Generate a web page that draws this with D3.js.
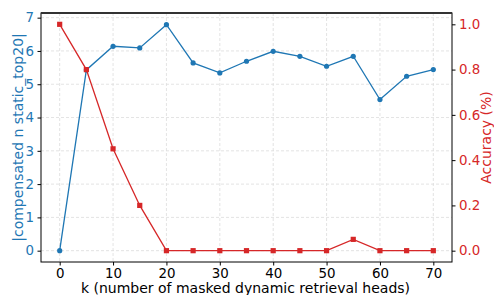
<!DOCTYPE html>
<html><head><meta charset="utf-8">
<script src="https://cdn.jsdelivr.net/npm/d3@7"></script>
<style>body{margin:0;background:#fff}svg{display:block}text{font-family:"DejaVu Sans",sans-serif}</style>
</head><body>
<script>
const kValues = [0,5,10,15,20,25,30,35,40,45,50,55,60,65,70];
const overlapValues = [0,5.43,6.14,6.09,6.79,5.64,5.34,5.69,5.99,5.84,5.54,5.84,4.54,5.24,5.44];
const accuracyValues = [1.0,0.8,0.45,0.2,0,0,0,0,0,0,0,0.05,0,0,0];
const xTicks = [0,10,20,30,40,50,60,70];
const leftTicks = [0,1,2,3,4,5,6,7];
const rightTicks = [0,0.2,0.4,0.6,0.8,1.0];
const xLabel = "k (number of masked dynamic retrieval heads)";
const leftLabel = "|compensated n static_top20|";
const rightLabel = "Accuracy (%)";

const W=494,H=295, L=41, R=452, T=13, B=262;
const blue="#1f77b4", red="#d62728";
const svg=d3.select("body").append("svg").attr("width",W).attr("height",H);
const x=d3.scaleLinear().domain([-3.5,73.5]).range([L,R]);
const yL=d3.scaleLinear().domain([-0.34,7.14]).range([B,T]);
const yR=d3.scaleLinear().domain([-0.05,1.05]).range([B,T]);

const grid=svg.append("g").attr("stroke","#dcdcdc").attr("stroke-width",0.8).attr("stroke-dasharray","3,2");
xTicks.forEach(t=>grid.append("line").attr("x1",x(t)).attr("x2",x(t)).attr("y1",T).attr("y2",B));
leftTicks.forEach(t=>grid.append("line").attr("x1",L).attr("x2",R).attr("y1",yL(t)).attr("y2",yL(t)));

const fs=13.4, lfs=14;
const gx=svg.append("g").attr("transform",`translate(0,${B})`).call(d3.axisBottom(x).tickValues(xTicks).tickSize(3.5).tickPadding(3));
gx.select(".domain").remove();
gx.selectAll("text").attr("font-size",fs).attr("fill","#000");
const gl=svg.append("g").attr("transform",`translate(${L},0)`).call(d3.axisLeft(yL).tickValues(leftTicks).tickSize(3.5).tickPadding(3.5));
gl.select(".domain").remove();
gl.selectAll("text").attr("font-size",fs).attr("fill",blue);
const gr=svg.append("g").attr("transform",`translate(${R},0)`).call(d3.axisRight(yR).tickValues(rightTicks).tickFormat(d3.format(".1f")).tickSize(3.5).tickPadding(3.5));
gr.select(".domain").remove();
gr.selectAll("text").attr("font-size",fs).attr("fill",red);

const line1=d3.line().x((d,i)=>x(kValues[i])).y(d=>yL(d));
svg.append("path").datum(overlapValues).attr("d",line1).attr("fill","none").attr("stroke",blue).attr("stroke-width",1.3);
svg.selectAll(".c").data(overlapValues).enter().append("circle").attr("cx",(d,i)=>x(kValues[i])).attr("cy",d=>yL(d)).attr("r",2.6).attr("fill",blue);

const line2=d3.line().x((d,i)=>x(kValues[i])).y(d=>yR(d));
svg.append("path").datum(accuracyValues).attr("d",line2).attr("fill","none").attr("stroke",red).attr("stroke-width",1.3);
svg.selectAll(".s").data(accuracyValues).enter().append("rect").attr("x",(d,i)=>x(kValues[i])-2.6).attr("y",d=>yR(d)-2.6).attr("width",5.2).attr("height",5.2).attr("fill",red);

svg.append("rect").attr("x",L).attr("y",T).attr("width",R-L).attr("height",B-T).attr("fill","none").attr("stroke","#000").attr("stroke-width",1);
svg.append("line").attr("x1",L).attr("x2",R).attr("y1",T).attr("y2",T).attr("stroke","#333").attr("stroke-width",2);

svg.append("text").attr("x",(L+R)/2-1).attr("y",293).attr("text-anchor","middle").attr("font-size",lfs).text(xLabel);
svg.append("text").attr("transform",`translate(23,${(T+B)/2}) rotate(-90)`).attr("text-anchor","middle").attr("font-size",lfs).attr("fill",blue).text(leftLabel);
svg.append("text").attr("transform",`translate(491,${(T+B)/2}) rotate(-90)`).attr("text-anchor","middle").attr("font-size",lfs).attr("fill",red).text(rightLabel);
</script>
</body></html>
